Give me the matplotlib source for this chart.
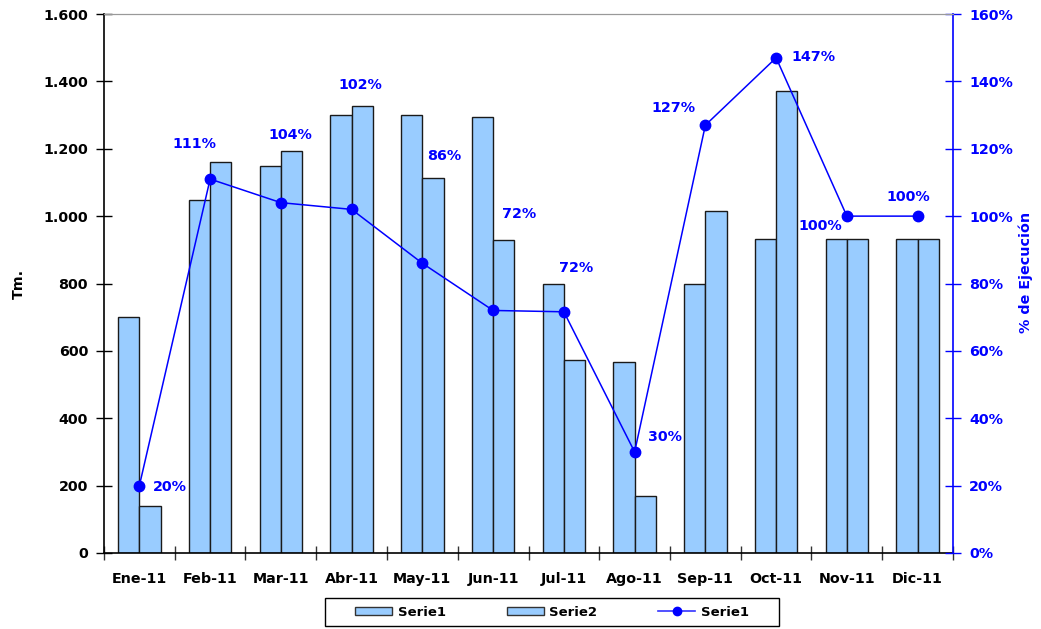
import matplotlib
matplotlib.use("Agg")
import matplotlib.pyplot as plt
import numpy as np
from matplotlib.lines import Line2D
from matplotlib.patches import Patch, Rectangle

months = ["Ene-11", "Feb-11", "Mar-11", "Abr-11", "May-11", "Jun-11",
          "Jul-11", "Ago-11", "Sep-11", "Oct-11", "Nov-11", "Dic-11"]
serie1 = [700, 1048, 1150, 1300, 1300, 1294, 800, 567, 800, 932, 932, 932]
serie2 = [140, 1162, 1192, 1327, 1113, 930, 573, 168, 1014, 1370, 932, 932]
pct = [20, 111, 104, 102, 86, 72, 71.6, 30, 127, 147, 100, 100]

left_ticks = [0, 200, 400, 600, 800, 1000, 1200, 1400, 1600]
left_ticklabels = ["0", "200", "400", "600", "800", "1.000", "1.200", "1.400", "1.600"]
right_ticks = [0, 20, 40, 60, 80, 100, 120, 140, 160]

# label offsets in pixels (dx, dy)
label_offsets = [(31, -1), (-16, 35), (9, 68), (9, 124), (22, 107), (26, 96),
                 (12, 44), (30, 15), (-32, 17), (37, 1), (-27, -10), (-9, 19)]

plt.rcParams['font.family'] = ['DejaVu Sans']
plt.rcParams['font.weight'] = 'bold'

W, H = 1041, 629
fig = plt.figure(figsize=(W / 100, H / 100), dpi=100)
ax = fig.add_axes([104 / W, (H - 553) / H, (953 - 104) / W, (553 - 14) / H])

FS = 10.3
x = np.arange(len(months))
bw = 0.3
fill = "#99CCFF"
ax.bar(x - bw / 2, serie1, width=bw, color=fill, edgecolor="#1a1a1a", linewidth=1.0, zorder=2)
ax.bar(x + bw / 2, serie2, width=bw, color=fill, edgecolor="#1a1a1a", linewidth=1.0, zorder=2)

ax.set_xlim(-0.5, len(months) - 0.5)
ax.set_ylim(0, 1600)
ax.set_yticks(left_ticks)
ax.set_yticklabels(left_ticklabels)
ax.set_xticks(np.arange(len(months) + 1) - 0.5)
ax.set_xticklabels([])
ax.set_xticks(x, minor=True)
ax.set_xticklabels(months, minor=True)
ax.tick_params(axis='x', which='major', direction='inout', length=10, width=1, color="#333333")
ax.tick_params(axis='x', which='minor', length=0, pad=14, labelsize=FS)
ax.tick_params(axis='y', direction='inout', length=11, width=1, pad=6, labelsize=FS)
for lab in ax.get_xticklabels(minor=True) + ax.get_yticklabels():
    lab.set_fontweight('bold')
ax.set_ylabel("Tm.", fontsize=FS, fontweight='bold')
ax.yaxis.set_label_coords(-0.092, 0.5)

ax.spines['top'].set_color("#999999")
ax.spines['left'].set_linewidth(1.2)
ax.spines['bottom'].set_linewidth(1.2)
ax.spines['right'].set_visible(False)

ax2 = ax.twinx()
ax2.set_ylim(0, 160)
ax2.set_yticks(right_ticks)
ax2.set_yticklabels([f"{t}%" for t in right_ticks])
ax2.tick_params(axis='y', direction='inout', length=11, width=1, pad=6, labelsize=FS,
                colors="#0000FF")
for lab in ax2.get_yticklabels():
    lab.set_fontweight('bold')
ax2.spines['right'].set_color("#0000FF")
ax2.spines['right'].set_linewidth(1.2)
ax2.spines['top'].set_color("#999999")
ax2.spines['left'].set_visible(False)
ax2.spines['bottom'].set_visible(False)
ax2.set_ylabel("% de Ejecución", color="#0000FF", fontsize=FS, fontweight='bold')
ax2.yaxis.set_label_coords(1.077, 0.52)

ax2.plot(x, pct, color="#0000FF", linewidth=1.1, marker='o', markersize=7.5, zorder=3)
for xi, p, (dx, dy) in zip(x, pct, label_offsets):
    ax2.annotate(f"{round(p)}%", (xi, p), xytext=(dx, dy), textcoords='offset pixels',
                 ha='center', va='center', color="#0000FF", fontsize=FS, fontweight='bold')

handles = [Patch(facecolor=fill, edgecolor="#333333"),
           Patch(facecolor=fill, edgecolor="#333333"),
           Line2D([0], [0], color="#3333FF", linewidth=1.2, marker='o', markersize=6,
                  markerfacecolor="#0000FF", markeredgecolor="#0000FF")]
leg = fig.legend(handles, ["Serie1", "Serie2", "Serie1"], loc='center',
                 bbox_to_anchor=(552 / W, 1 - 612 / H), ncol=3, frameon=False,
                 fontsize=9.5, columnspacing=4.6,
                 handlelength=2.8, handleheight=0.55, handletextpad=0.45,
                 borderpad=0.55, borderaxespad=0)
for t in leg.get_texts():
    t.set_fontweight('bold')
fig.patches.append(Rectangle((325 / W, 1 - 626 / H), (779 - 325) / W, 28 / H,
                             transform=fig.transFigure, fill=False,
                             edgecolor="black", linewidth=1.0))

fig.savefig("out.png", dpi=100)
